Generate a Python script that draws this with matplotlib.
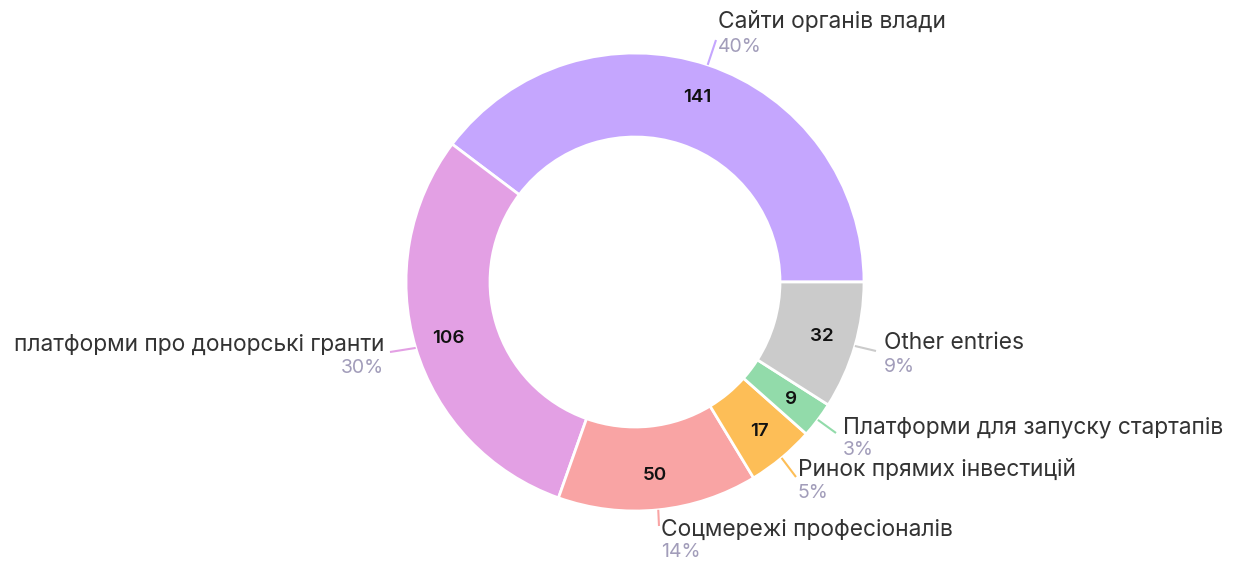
import numpy as np
import matplotlib
matplotlib.use("Agg")
import matplotlib.pyplot as plt

categories = ["Сайти органів влади", "платформи про донорські гранти", "Соцмережі професіоналів",
              "Ринок прямих інвестицій", "Платформи для запуску стартапів", "Other entries"]
values = [141, 106, 50, 17, 9, 32]
percent_labels = ["40%", "30%", "14%", "5%", "3%", "9%"]
colors = ["#c5a6fe", "#e3a0e4", "#f9a4a4", "#fdbe57", "#92dbaa", "#cbcbcb"]

W, H = 1243, 561
fig = plt.figure(figsize=(W / 100, H / 100), dpi=100)
ax = fig.add_axes([0, 0, 1, 1])

cx, cy_pix = 635, 282
R, r_in = 229, 145
center = (cx, H - cy_pix)

wedges, _ = ax.pie(values, colors=colors, startangle=0, counterclock=True,
                   radius=R, center=center, frame=True,
                   wedgeprops=dict(width=R - r_in, edgecolor="white", linewidth=2))
ax.set_xlim(0, W)
ax.set_ylim(0, H)
ax.set_aspect("equal")
ax.axis("off")

FONT = ["Inter", "DejaVu Sans"]

# label anchor positions (pixels, y from top)
line_ends = [(716, 40), (390, 352), (659, 526), (796, 477), (836, 433), (876, 351)]
name_pos = [(718, 22, "left"), (384, 345, "right"), (661, 530, "left"),
            (798, 470, "left"), (843, 428, "left"), (884, 343, "left")]
pct_pos = [(718, 47), (384, 368), (661, 552), (798, 493), (843, 450), (884, 367)]

for w, val, col, name, pct, le, npos, ppos in zip(wedges, values, colors, categories,
                                                   percent_labels, line_ends, name_pos, pct_pos):
    mid = np.deg2rad((w.theta1 + w.theta2) / 2)
    rr = 195
    ax.text(cx + rr * np.cos(mid), H - (cy_pix - rr * np.sin(mid)), str(val),
            ha="center", va="center", fontsize=13.5, color="#111111",
            family=FONT, fontweight="semibold")
    x0 = cx + R * np.cos(mid)
    y0 = cy_pix - R * np.sin(mid)
    ax.plot([x0, le[0]], [H - y0, H - le[1]], color=col, lw=1.5, solid_capstyle="butt")
    ax.text(npos[0], H - npos[1], name, ha=npos[2], va="center", fontsize=16.4,
            color="#333333", family=FONT)
    ax.text(ppos[0], H - ppos[1], pct, ha=npos[2], va="center", fontsize=14,
            color="#a29dba", family=FONT)

fig.savefig("out.png", dpi=100, facecolor="white")
